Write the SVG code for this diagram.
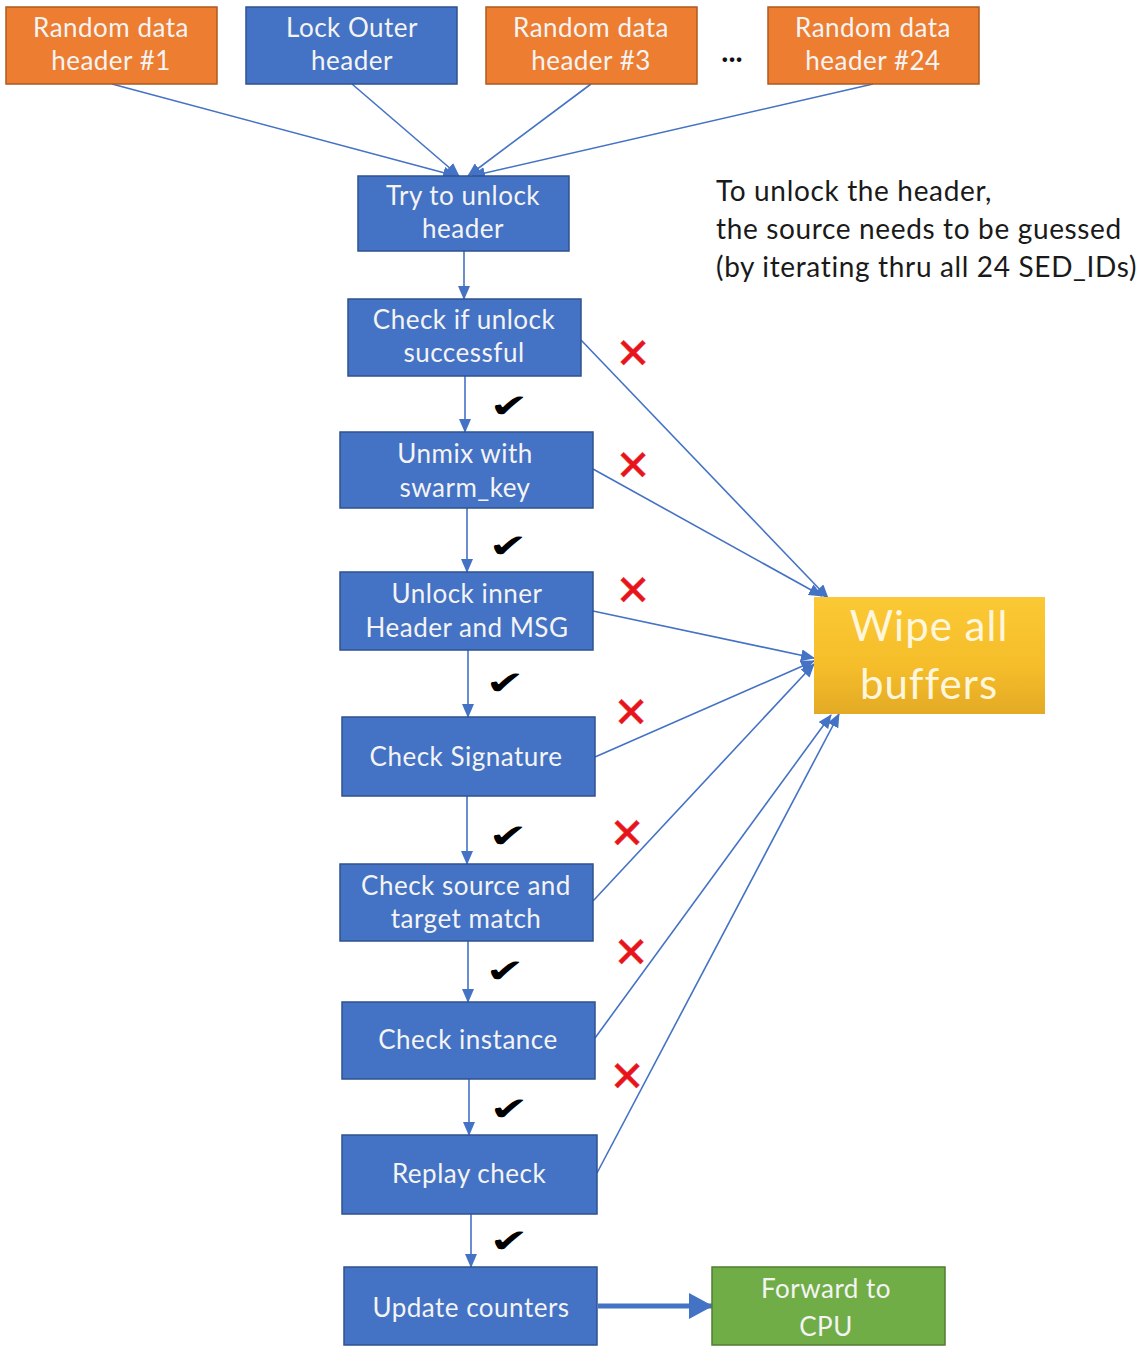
<svg xmlns="http://www.w3.org/2000/svg" width="1146" height="1347" viewBox="0 0 1146 1347">
<style>
.blue{fill:#4472C4;stroke:#2F528F;stroke-width:1.5}
.orange{fill:#ED7D31;stroke:#AE5A21;stroke-width:1.5}
.green{fill:#70AD47;stroke:#507E32;stroke-width:1.5}
.t{font-family:Lato,"Open Sans",sans-serif;font-size:26px;letter-spacing:0.5px;fill:#F4F4F4;text-anchor:middle}
.note{font-family:Lato,"Open Sans",sans-serif;font-size:28px;letter-spacing:0.65px;fill:#1a1a1a}
.ln{stroke:#4472C4;stroke-width:1.6;fill:none;marker-end:url(#ah)}
.ok{font-family:"DejaVu Sans",sans-serif;font-size:36px;fill:#000;text-anchor:middle}
.no{font-family:"DejaVu Sans",sans-serif;font-size:42px;fill:#E8141B;stroke:#E8141B;stroke-width:0.5;text-anchor:middle}
</style>
<defs>
<marker id="ah" markerUnits="userSpaceOnUse" markerWidth="14" markerHeight="12" refX="13" refY="6" orient="auto">
<path d="M0,0 L14,6 L0,12 Z" fill="#4472C4"/>
</marker>
<marker id="ahb" markerUnits="userSpaceOnUse" markerWidth="24" markerHeight="26" refX="23" refY="13" orient="auto">
<path d="M0,0 L24,13 L0,26 Z" fill="#4472C4"/>
</marker>
<linearGradient id="gold" x1="0" y1="0" x2="0" y2="1">
<stop offset="0" stop-color="#FBC935"/>
<stop offset="0.6" stop-color="#F5BD2A"/>
<stop offset="1" stop-color="#E3AA25"/>
</linearGradient>
</defs>

<g id="connectors">
<line class="ln" x1="112" y1="84" x2="456" y2="176"/>
<line class="ln" x1="352" y1="84" x2="459" y2="176"/>
<line class="ln" x1="591" y1="84" x2="468" y2="176"/>
<line class="ln" x1="873" y1="84" x2="472" y2="176"/>
<line class="ln" x1="464" y1="251" x2="464" y2="299"/>
<line class="ln" x1="465" y1="376" x2="465" y2="432"/>
<line class="ln" x1="467" y1="508" x2="467" y2="572"/>
<line class="ln" x1="468" y1="650" x2="468" y2="717"/>
<line class="ln" x1="467" y1="796" x2="467" y2="864"/>
<line class="ln" x1="468" y1="941" x2="468" y2="1002"/>
<line class="ln" x1="469" y1="1079" x2="469" y2="1135"/>
<line class="ln" x1="471" y1="1214" x2="471" y2="1267"/>
<line class="ln" x1="581" y1="340" x2="828" y2="598"/>
<line class="ln" x1="593" y1="469" x2="822" y2="596"/>
<line class="ln" x1="593" y1="611" x2="814" y2="658"/>
<line class="ln" x1="595" y1="757" x2="814" y2="661"/>
<line class="ln" x1="593" y1="901" x2="814" y2="664"/>
<line class="ln" x1="595" y1="1038" x2="831" y2="715"/>
<line class="ln" x1="597" y1="1173" x2="839" y2="714"/>
<line x1="598" y1="1306" x2="712" y2="1306" stroke="#4472C4" stroke-width="5" marker-end="url(#ahb)"/>
</g>

<g id="n1"><rect class="orange" x="6" y="7" width="211" height="77"/><text class="t" x="111" y="37">Random data</text><text class="t" x="111" y="70">header #1</text></g>
<g id="n2"><rect class="blue" x="246" y="7" width="211" height="77"/><text class="t" x="352" y="37">Lock Outer</text><text class="t" x="352" y="70">header</text></g>
<g id="n3"><rect class="orange" x="486" y="7" width="211" height="77"/><text class="t" x="591" y="37">Random data</text><text class="t" x="591" y="70">header #3</text></g>
<g id="dots"><text x="732" y="62" font-family="Lato,sans-serif" font-size="30" font-weight="bold" fill="#111" text-anchor="middle">...</text></g>
<g id="n24"><rect class="orange" x="768" y="7" width="211" height="77"/><text class="t" x="873" y="37">Random data</text><text class="t" x="873" y="70">header #24</text></g>

<g id="try"><rect class="blue" x="358" y="176" width="211" height="75"/><text class="t" x="463" y="205">Try to unlock</text><text class="t" x="463" y="238">header</text></g>
<g id="checkunlock"><rect class="blue" x="348" y="299" width="233" height="77"/><text class="t" x="464" y="329">Check if unlock</text><text class="t" x="464" y="362">successful</text></g>
<g id="unmix"><rect class="blue" x="340" y="432" width="253" height="76"/><text class="t" x="465" y="463">Unmix with</text><text class="t" x="465" y="497">swarm_key</text></g>
<g id="unlockinner"><rect class="blue" x="340" y="572" width="253" height="78"/><text class="t" x="467" y="603">Unlock inner</text><text class="t" x="467" y="637">Header and MSG</text></g>
<g id="sig"><rect class="blue" x="342" y="717" width="253" height="79"/><text class="t" x="466" y="766">Check Signature</text></g>
<g id="src"><rect class="blue" x="340" y="864" width="253" height="77"/><text class="t" x="466" y="895">Check source and</text><text class="t" x="466" y="928">target match</text></g>
<g id="inst"><rect class="blue" x="342" y="1002" width="253" height="77"/><text class="t" x="468" y="1049">Check instance</text></g>
<g id="replay"><rect class="blue" x="342" y="1135" width="255" height="79"/><text class="t" x="469" y="1183">Replay check</text></g>
<g id="update"><rect class="blue" x="344" y="1267" width="253" height="78"/><text class="t" x="471" y="1317">Update counters</text></g>
<g id="cpu"><rect class="green" x="712" y="1267" width="233" height="78"/><text class="t" x="826" y="1298">Forward to</text><text class="t" x="826" y="1336">CPU</text></g>

<g id="wipe"><rect x="814" y="597" width="231" height="117" fill="url(#gold)"/><text x="929" y="641" font-family="Lato,'Open Sans',sans-serif" font-size="42" letter-spacing="1" fill="#FFF6DC" text-anchor="middle">Wipe all</text><text x="929" y="699" font-family="Lato,'Open Sans',sans-serif" font-size="42" letter-spacing="1" fill="#FFF6DC" text-anchor="middle">buffers</text></g>

<g id="note">
<text class="note" x="716" y="201">To unlock the header,</text>
<text class="note" x="716" y="239">the source needs to be guessed</text>
<text class="note" x="716" y="277">(by iterating thru all 24 SED_IDs)</text>
</g>

<g id="marks">
<text class="ok" transform="translate(509,417) scale(1.3,0.9)">✔</text>
<text class="ok" transform="translate(508,557) scale(1.3,0.9)">✔</text>
<text class="ok" transform="translate(505,694) scale(1.3,0.9)">✔</text>
<text class="ok" transform="translate(508,847) scale(1.3,0.9)">✔</text>
<text class="ok" transform="translate(505,982) scale(1.3,0.9)">✔</text>
<text class="ok" transform="translate(509,1120) scale(1.3,0.9)">✔</text>
<text class="ok" transform="translate(509,1252) scale(1.3,0.9)">✔</text>
<text class="no" x="633" y="368">✕</text>
<text class="no" x="633" y="480">✕</text>
<text class="no" x="633" y="605">✕</text>
<text class="no" x="631" y="727">✕</text>
<text class="no" x="627" y="848">✕</text>
<text class="no" x="631" y="967">✕</text>
<text class="no" x="627" y="1091">✕</text>
</g>
</svg>
